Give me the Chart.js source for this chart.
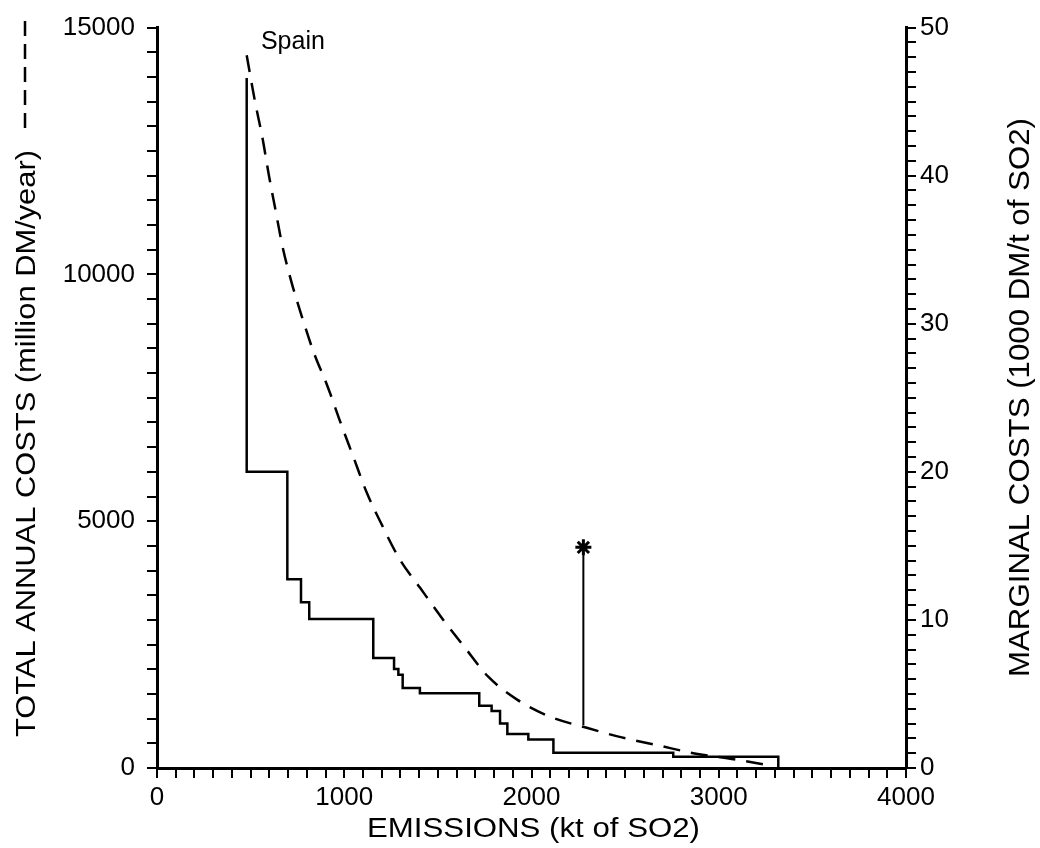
<!DOCTYPE html>
<html><head><meta charset="utf-8">
<script src="https://cdn.jsdelivr.net/npm/chart.js@4.4.1/dist/chart.umd.min.js"></script>
<style>html,body{margin:0;padding:0;background:#fff}#wrap{width:1040px;height:848px;position:relative}</style>
</head><body><div id="wrap"><canvas id="c"></canvas></div>
<script>
// ---- data ----
const totalCostX = [479, 523, 563, 597, 633, 670, 717, 775, 837, 912, 979, 1050, 1120, 1203, 1296, 1405, 1523, 1648, 1769, 1921, 2099, 2295, 2482, 2680, 2871, 3069, 3256, 3290];
const totalCostY = [14440, 13510, 12770, 12020, 11300, 10570, 9860, 9130, 8420, 7720, 7010, 6290, 5580, 4910, 4230, 3650, 3030, 2420, 1850, 1390, 1040, 814, 620, 456, 295, 184, 60, 35];
const marginalX = [479, 479, 696, 769, 813, 1155, 1266, 1289, 1312, 1404, 1721, 1787, 1832, 1871, 1983, 2117, 2757, 3318];
const marginalY = [46.6, 20.0, 12.75, 11.2, 10.07, 7.42, 6.68, 6.3, 5.41, 5.05, 4.2, 3.85, 3.0, 2.3, 1.92, 1.03, 0.76, 0];
const markerX = [2277, 2277];
const markerY = [4470, 865];
const xTickLabels = [0, 1000, 2000, 3000, 4000];
const leftTickLabels = [0, 5000, 10000, 15000];
const rightTickLabels = [0, 10, 20, 30, 40, 50];
const countryLabel = 'Spain';
const countryAt = [555, 14558];
const xTitle = 'EMISSIONS (kt of SO2)';
const leftTitle = 'TOTAL ANNUAL COSTS (million DM/year)';
const rightTitle = 'MARGINAL COSTS (1000 DM/t of SO2)';

const toPts = (xs, ys) => xs.map((x, i) => ({x, y: ys[i]}));
const tickFont = {family: '"Liberation Sans", Arial, sans-serif', size: 26};
const titleFont = '"Liberation Sans Narrow", "Liberation Sans", sans-serif';

const titlesPlugin = {
  id: 'titles',
  afterDraw(chart) {
    const ctx = chart.ctx;
    ctx.save();
    ctx.fillStyle = '#000';
    ctx.textAlign = 'left';
    ctx.textBaseline = 'alphabetic';
    function drawFit(text, x, y, rot, len, size) {
      ctx.save();
      ctx.font = size + 'px ' + titleFont;
      const sx = len / ctx.measureText(text).width;
      ctx.translate(x, y);
      ctx.rotate(rot);
      ctx.scale(sx, 1);
      ctx.fillText(text, 0, 0);
      ctx.restore();
    }
    drawFit(xTitle, 367, 837, 0, 333, 27);
    drawFit(leftTitle, 35, 737, -Math.PI / 2, 587, 28);
    drawFit(rightTitle, 1029, 677, -Math.PI / 2, 559, 29);
    ctx.strokeStyle = '#000';
    ctx.lineWidth = 2.5;
    ctx.setLineDash([15, 8]);
    ctx.beginPath(); ctx.moveTo(25, 128); ctx.lineTo(25, 18); ctx.stroke();
    ctx.setLineDash([]);
    const xs = chart.scales.x, ys = chart.scales.y;
    ctx.font = '25px "Liberation Sans", Arial, sans-serif';
    ctx.fillText(countryLabel, xs.getPixelForValue(countryAt[0]), ys.getPixelForValue(countryAt[1]));
    ctx.restore();
  }
};

const gridOpts = {display: true, drawOnChartArea: false, drawTicks: true, tickLength: 10, color: '#000', lineWidth: 2};
const borderOpts = {display: true, color: '#000', width: 3};

new Chart(document.getElementById('c'), {
  type: 'line',
  data: {
    datasets: [
      {
        label: 'Total annual costs',
        data: toPts(totalCostX, totalCostY),
        yAxisID: 'y',
        borderColor: '#000',
        borderWidth: 2.5,
        borderDash: [17, 11],
        pointRadius: 0,
        cubicInterpolationMode: 'monotone',
        fill: false
      },
      {
        label: 'Marginal costs',
        data: toPts(marginalX, marginalY),
        yAxisID: 'y2',
        borderColor: '#000',
        borderWidth: 2.5,
        stepped: true,
        pointRadius: 0,
        fill: false
      },
      {
        label: 'Marker',
        data: toPts(markerX, markerY),
        yAxisID: 'y',
        borderColor: '#000',
        borderWidth: 2,
        pointStyle: 'star',
        pointRadius: [8, 0],
        pointBorderWidth: 3,
        pointBorderColor: '#000',
        fill: false
      }
    ]
  },
  options: {
    responsive: true,
    maintainAspectRatio: false,
    animation: false,
    devicePixelRatio: 1,
    layout: {padding: {top: 22, left: 0, right: 0, bottom: 0}},
    plugins: {legend: {display: false}, tooltip: {enabled: false}},
    scales: {
      x: {
        type: 'linear', position: 'bottom', min: 0, max: 4000,
        grid: gridOpts, border: borderOpts,
        ticks: {stepSize: 100, autoSkip: false, maxRotation: 0, color: '#000', font: tickFont, padding: 4,
          callback: v => xTickLabels.includes(v) ? String(v) : ''},
        afterFit: s => { s.height = 80; }
      },
      y: {
        type: 'linear', position: 'left', min: 0, max: 15000,
        grid: gridOpts, border: borderOpts,
        ticks: {stepSize: 500, autoSkip: false, color: '#000', font: tickFont, padding: 12,
          callback: v => leftTickLabels.includes(v) ? String(v) : ''},
        afterFit: s => { s.width = 157; }
      },
      y2: {
        type: 'linear', position: 'right', min: 0, max: 50,
        grid: gridOpts, border: borderOpts,
        ticks: {stepSize: 1, autoSkip: false, color: '#000', font: tickFont, padding: 4,
          callback: v => rightTickLabels.includes(v) ? String(v) : ''},
        afterFit: s => { s.width = 134; }
      }
    }
  },
  plugins: [titlesPlugin]
});
</script>
</body></html>
